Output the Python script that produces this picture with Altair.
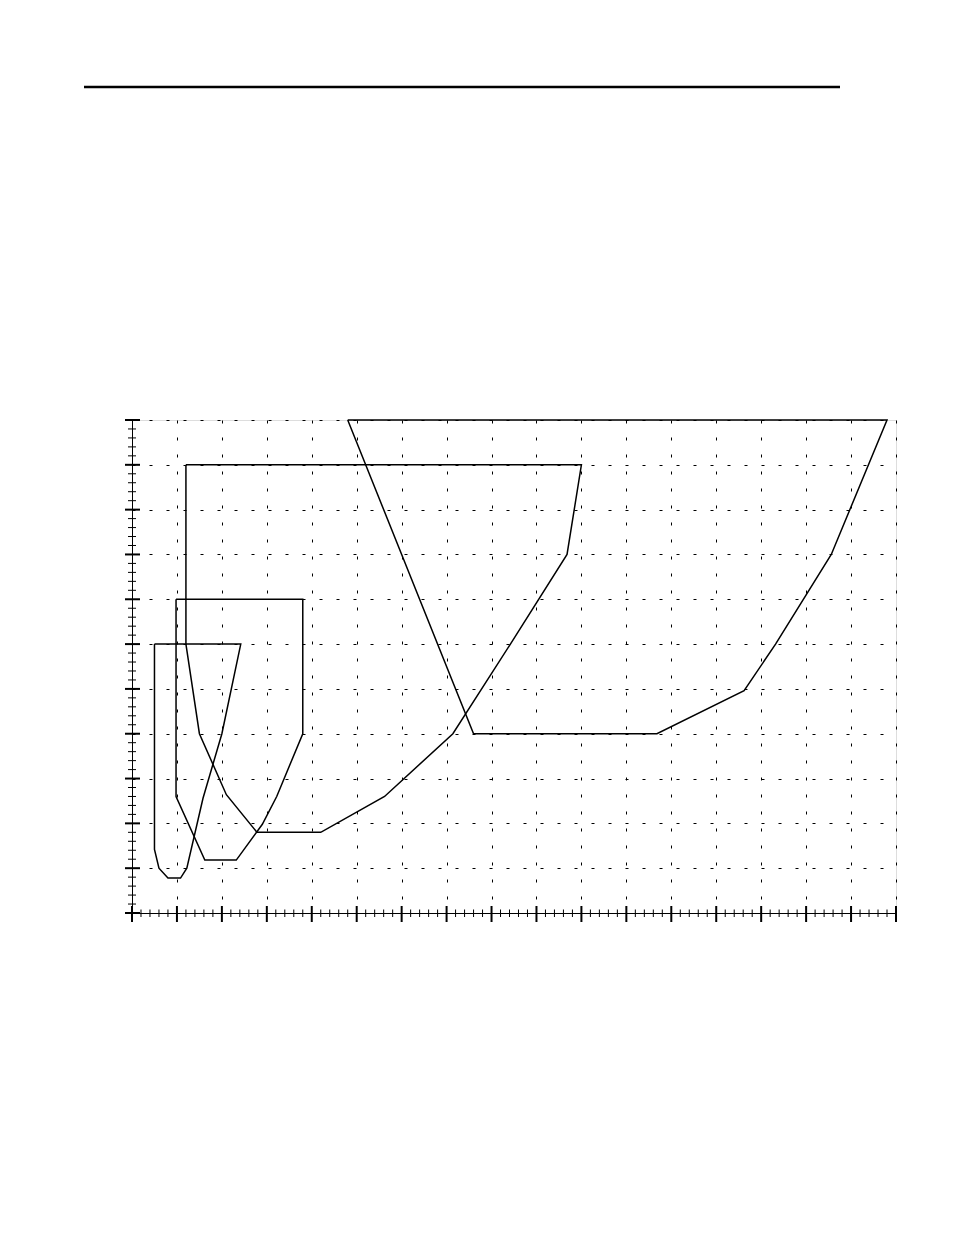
import altair as alt
import pandas as pd

# Outline vertices (closed), in grid units
shape_a_x = [2.5, 12.1, 10.0, 7.9, 6.1, 5.4, 4.0, 3.0, 2.5, 2.5]
shape_a_y = [30.0, 30.0, 20.0, 12.8, 5.0, 3.9, 3.9, 5.0, 7.1, 30.0]

shape_b_x = [4.9, 19.0, 19.0, 16.1, 14.5, 11.6, 8.1, 4.9, 4.9]
shape_b_y = [35.0, 35.0, 20.0, 13.0, 9.9, 5.9, 5.9, 13.0, 35.0]

shape_c_x = [6.0, 50.0, 48.4, 42.1, 35.7, 28.1, 21.0, 13.9, 10.5, 7.5, 6.0, 6.0]
shape_c_y = [50.0, 50.0, 40.0, 30.0, 20.0, 13.0, 9.0, 9.0, 13.2, 20.0, 30.0, 50.0]

shape_d_x = [24.0, 84.0, 77.8, 71.6, 68.1, 58.4, 38.0, 24.0]
shape_d_y = [55.0, 55.0, 40.0, 30.0, 24.8, 20.0, 20.0, 55.0]

x_max = 85
y_max = 55
x_grid = list(range(0, x_max + 1, 5))
y_grid = list(range(0, y_max + 1, 5))

rows = []
for name, xs, ys in [("A", shape_a_x, shape_a_y), ("B", shape_b_x, shape_b_y),
                     ("C", shape_c_x, shape_c_y), ("D", shape_d_x, shape_d_y)]:
    for i, (xv, yv) in enumerate(zip(xs, ys)):
        rows.append({"shape": name, "order": i, "x": xv, "y": yv})
df = pd.DataFrame(rows)

W, H = 764, 493

xscale = alt.Scale(domain=[0, x_max], nice=False, zero=False)
yscale = alt.Scale(domain=[0, y_max], nice=False, zero=False)
xaxis = alt.Axis(values=x_grid, labels=False, ticks=False, grid=True, gridDash=[3, 14],
                 gridColor="black", gridOpacity=1, gridWidth=1, domainColor="black",
                 domainWidth=1, title=None)
yaxis = alt.Axis(values=y_grid, labels=False, ticks=False, grid=True, gridDash=[3, 14],
                 gridColor="black", gridOpacity=1, gridWidth=1, domainColor="black",
                 domainWidth=1, title=None)

lines = alt.Chart(df).mark_line(color="black", strokeWidth=1.5).encode(
    x=alt.X("x:Q", scale=xscale, axis=xaxis),
    y=alt.Y("y:Q", scale=yscale, axis=yaxis),
    detail="shape:N",
    order="order:Q",
)

xt = pd.DataFrame({"x": list(range(0, x_max + 1))})
xt["major"] = xt["x"] % 5 == 0
yt = pd.DataFrame({"y": list(range(0, y_max + 1))})
yt["major"] = yt["y"] % 5 == 0

x_minor = alt.Chart(xt[~xt["major"]]).mark_rule(color="black", strokeWidth=1).encode(
    x=alt.X("x:Q", scale=xscale, axis=xaxis),
    y=alt.value(H - 3.5), y2=alt.value(H + 4),
)
x_major = alt.Chart(xt[xt["major"]]).mark_rule(color="black", strokeWidth=2).encode(
    x=alt.X("x:Q", scale=xscale, axis=xaxis),
    y=alt.value(H - 7), y2=alt.value(H + 9),
)
y_minor = alt.Chart(yt[~yt["major"]]).mark_rule(color="black", strokeWidth=1).encode(
    y=alt.Y("y:Q", scale=yscale, axis=yaxis),
    x=alt.value(-4), x2=alt.value(4),
)
y_major = alt.Chart(yt[yt["major"]]).mark_rule(color="black", strokeWidth=2).encode(
    y=alt.Y("y:Q", scale=yscale, axis=yaxis),
    x=alt.value(-7), x2=alt.value(8),
)

header = alt.Chart(pd.DataFrame({"k": [0]})).mark_rule(color="black", strokeWidth=2.5).encode(
    x=alt.value(-48), x2=alt.value(708), y=alt.value(-333)
)

chart = alt.layer(lines, x_minor, x_major, y_minor, y_major, header).properties(
    width=W, height=H,
    autosize=alt.AutoSizeParams(type="none"),
    padding={"left": 124, "top": 412, "right": 40, "bottom": 280},
).configure_view(stroke=None).configure(background="white")

chart.save("out.html", embed_options={"renderer": "svg", "actions": False})
